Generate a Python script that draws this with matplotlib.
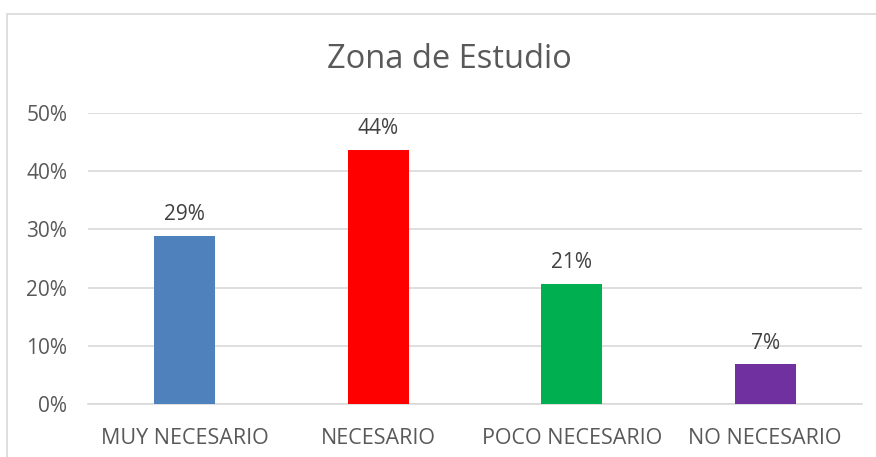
import matplotlib.pyplot as plt
from matplotlib.patches import Rectangle
from matplotlib.ticker import PercentFormatter

# Datos
categorias = ["MUY NECESARIO", "NECESARIO", "POCO NECESARIO", "NO NECESARIO"]
valores = [0.289, 0.437, 0.207, 0.068]
etiquetas = ["29%", "44%", "21%", "7%"]
colores = ["#4F81BD", "#FF0000", "#00B050", "#7030A0"]

plt.rcParams['font.family'] = ['Open Sans', 'DejaVu Sans']
gris = "#595959"

fig = plt.figure(figsize=(8.76, 4.57), dpi=100)
W, H = 876, 457

# Marco del gráfico
fig.patches.append(Rectangle((7 / W, -0.1), 1.2, 1 - 14 / H + 0.1, transform=fig.transFigure,
                             fill=False, edgecolor="#d9d9d9", linewidth=1.2))

ax = fig.add_axes([88 / W, 1 - 404 / H, (862 - 88) / W, (404 - 113) / H])
x = range(len(categorias))
ax.bar(x, valores, width=0.315, color=colores, zorder=3)
for xi, v, t in zip(x, valores, etiquetas):
    ax.text(xi, v + 0.018, t, ha="center", va="bottom", fontsize=15, color="#404040")

ax.set_xlim(-0.5, 3.5)
ax.set_ylim(0, 0.5)
ax.set_yticks([0, 0.1, 0.2, 0.3, 0.4, 0.5])
ax.yaxis.set_major_formatter(PercentFormatter(1.0, decimals=0))
ax.set_xticks(list(x))
ax.set_xticklabels(categorias)
ax.tick_params(axis="both", length=0, labelsize=15, labelcolor=gris)
ax.tick_params(axis="x", labelsize=15.5, pad=17)
ax.tick_params(axis="y", pad=15)
ax.grid(axis="y", color="#d9d9d9", linewidth=1.2, zorder=0)
for s in ["top", "right", "left"]:
    ax.spines[s].set_visible(False)
ax.spines["bottom"].set_color("#d9d9d9")
ax.spines["bottom"].set_linewidth(1.2)

fig.text(449 / W, 1 - 59 / H, "Zona de Estudio", ha="center", va="center", fontsize=23.5, color=gris)

fig.savefig("out.png", dpi=100)
